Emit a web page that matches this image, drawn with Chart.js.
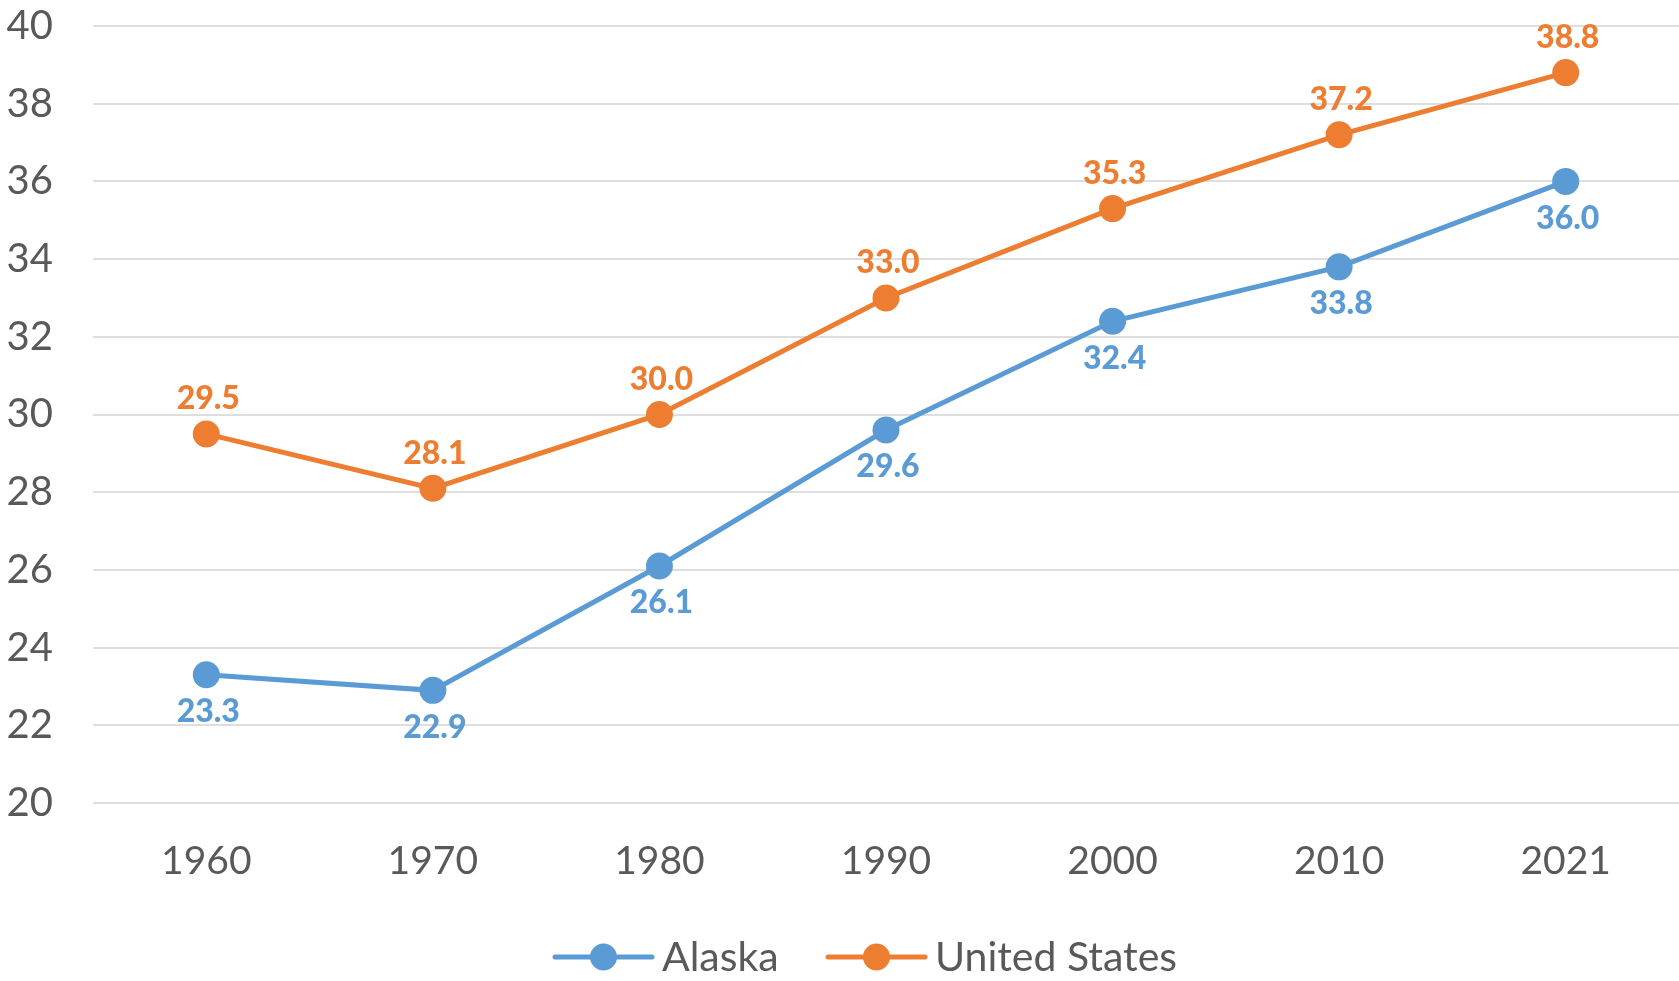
<!DOCTYPE html>
<html>
<head>
<meta charset="utf-8">
<script src="https://cdn.jsdelivr.net/npm/chart.js@4"></script>
<style>
html,body{margin:0;padding:0;background:#fff;}
#wrap{width:1679px;height:981px;position:relative;}
</style>
</head>
<body>
<div id="wrap"><canvas id="c" width="1679" height="981"></canvas></div>
<script>
const years = ["1960", "1970", "1980", "1990", "2000", "2010", "2021"];
const alaska = [23.3, 22.9, 26.1, 29.6, 32.4, 33.8, 36.0];
const unitedStates = [29.5, 28.1, 30.0, 33.0, 35.3, 37.2, 38.8];
const seriesNames = ["Alaska", "United States"];
const yMin = 20, yMax = 40, yStep = 2;

const BLUE = "#5B9BD5", ORANGE = "#ED7D31", TEXT = "#595959";
const FONT = "Lato, 'Open Sans', sans-serif";

const labelPlugin = {
  id: "valueLabels",
  afterDatasetsDraw(chart) {
    const ctx = chart.ctx;
    ctx.save();
    ctx.font = "900 32px " + FONT;
    ctx.textAlign = "center";
    ctx.textBaseline = "middle";
    chart.data.datasets.forEach((ds, i) => {
      const meta = chart.getDatasetMeta(i);
      const off = ds.labelOffset;
      ctx.fillStyle = ds.borderColor;
      meta.data.forEach((pt, j) => {
        ctx.fillText(ds.data[j].toFixed(1), pt.x + 2, pt.y + off);
      });
    });
    ctx.restore();
  }
};

// legend drawn below the x axis, in the space reserved by layout padding
const legendPlugin = {
  id: "lineLegend",
  afterDraw(chart) {
    const ctx = chart.ctx;
    const cy = 957;
    const starts = [555, 828];
    const lineLen = 97;
    ctx.save();
    ctx.font = "41px " + FONT;
    ctx.textBaseline = "middle";
    ctx.textAlign = "left";
    chart.data.datasets.forEach((ds, i) => {
      const x0 = starts[i];
      ctx.strokeStyle = ds.borderColor;
      ctx.lineWidth = 5;
      ctx.lineCap = "round";
      ctx.beginPath(); ctx.moveTo(x0, cy); ctx.lineTo(x0 + lineLen, cy); ctx.stroke();
      ctx.fillStyle = ds.borderColor;
      ctx.beginPath(); ctx.arc(x0 + lineLen / 2, cy, 13.5, 0, Math.PI * 2); ctx.fill();
      ctx.fillStyle = TEXT;
      ctx.fillText(ds.label, x0 + lineLen + 10, cy + 1);
    });
    ctx.restore();
  }
};

new Chart(document.getElementById("c"), {
  type: "line",
  data: {
    labels: years,
    datasets: [
      {
        label: seriesNames[0], data: alaska,
        borderColor: BLUE, backgroundColor: BLUE,
        borderWidth: 5, pointRadius: 13.5, pointHoverRadius: 13.5,
        pointBackgroundColor: BLUE, pointBorderWidth: 0,
        pointStyle: "circle", labelOffset: 37, tension: 0
      },
      {
        label: seriesNames[1], data: unitedStates,
        borderColor: ORANGE, backgroundColor: ORANGE,
        borderWidth: 5, pointRadius: 13.5, pointHoverRadius: 13.5,
        pointBackgroundColor: ORANGE, pointBorderWidth: 0,
        pointStyle: "circle", labelOffset: -35, tension: 0
      }
    ]
  },
  options: {
    responsive: false,
    animation: false,
    devicePixelRatio: 1,
    layout: { autoPadding: false, padding: { top: 26, right: 0, left: 0, bottom: 82 } },
    plugins: {
      tooltip: { enabled: false },
      legend: { display: false }
    },
    scales: {
      x: {
        offset: true,
        grid: { display: false, drawTicks: false },
        border: { display: false },
        ticks: { font: { family: FONT, size: 39 }, color: TEXT, padding: 35 },
        afterFit(s) { s.height = 96; s.paddingLeft = 0; s.paddingRight = 0; }
      },
      y: {
        min: yMin, max: yMax,
        grid: { color: "#DEDEDE", lineWidth: 2, drawTicks: false },
        border: { display: false },
        ticks: { stepSize: yStep, font: { family: FONT, size: 40 }, color: TEXT, padding: 40 },
        afterFit(s) { s.width = 93; s.paddingTop = 0; s.paddingBottom = 0; }
      }
    }
  },
  plugins: [labelPlugin, legendPlugin]
});
</script>
</body>
</html>
